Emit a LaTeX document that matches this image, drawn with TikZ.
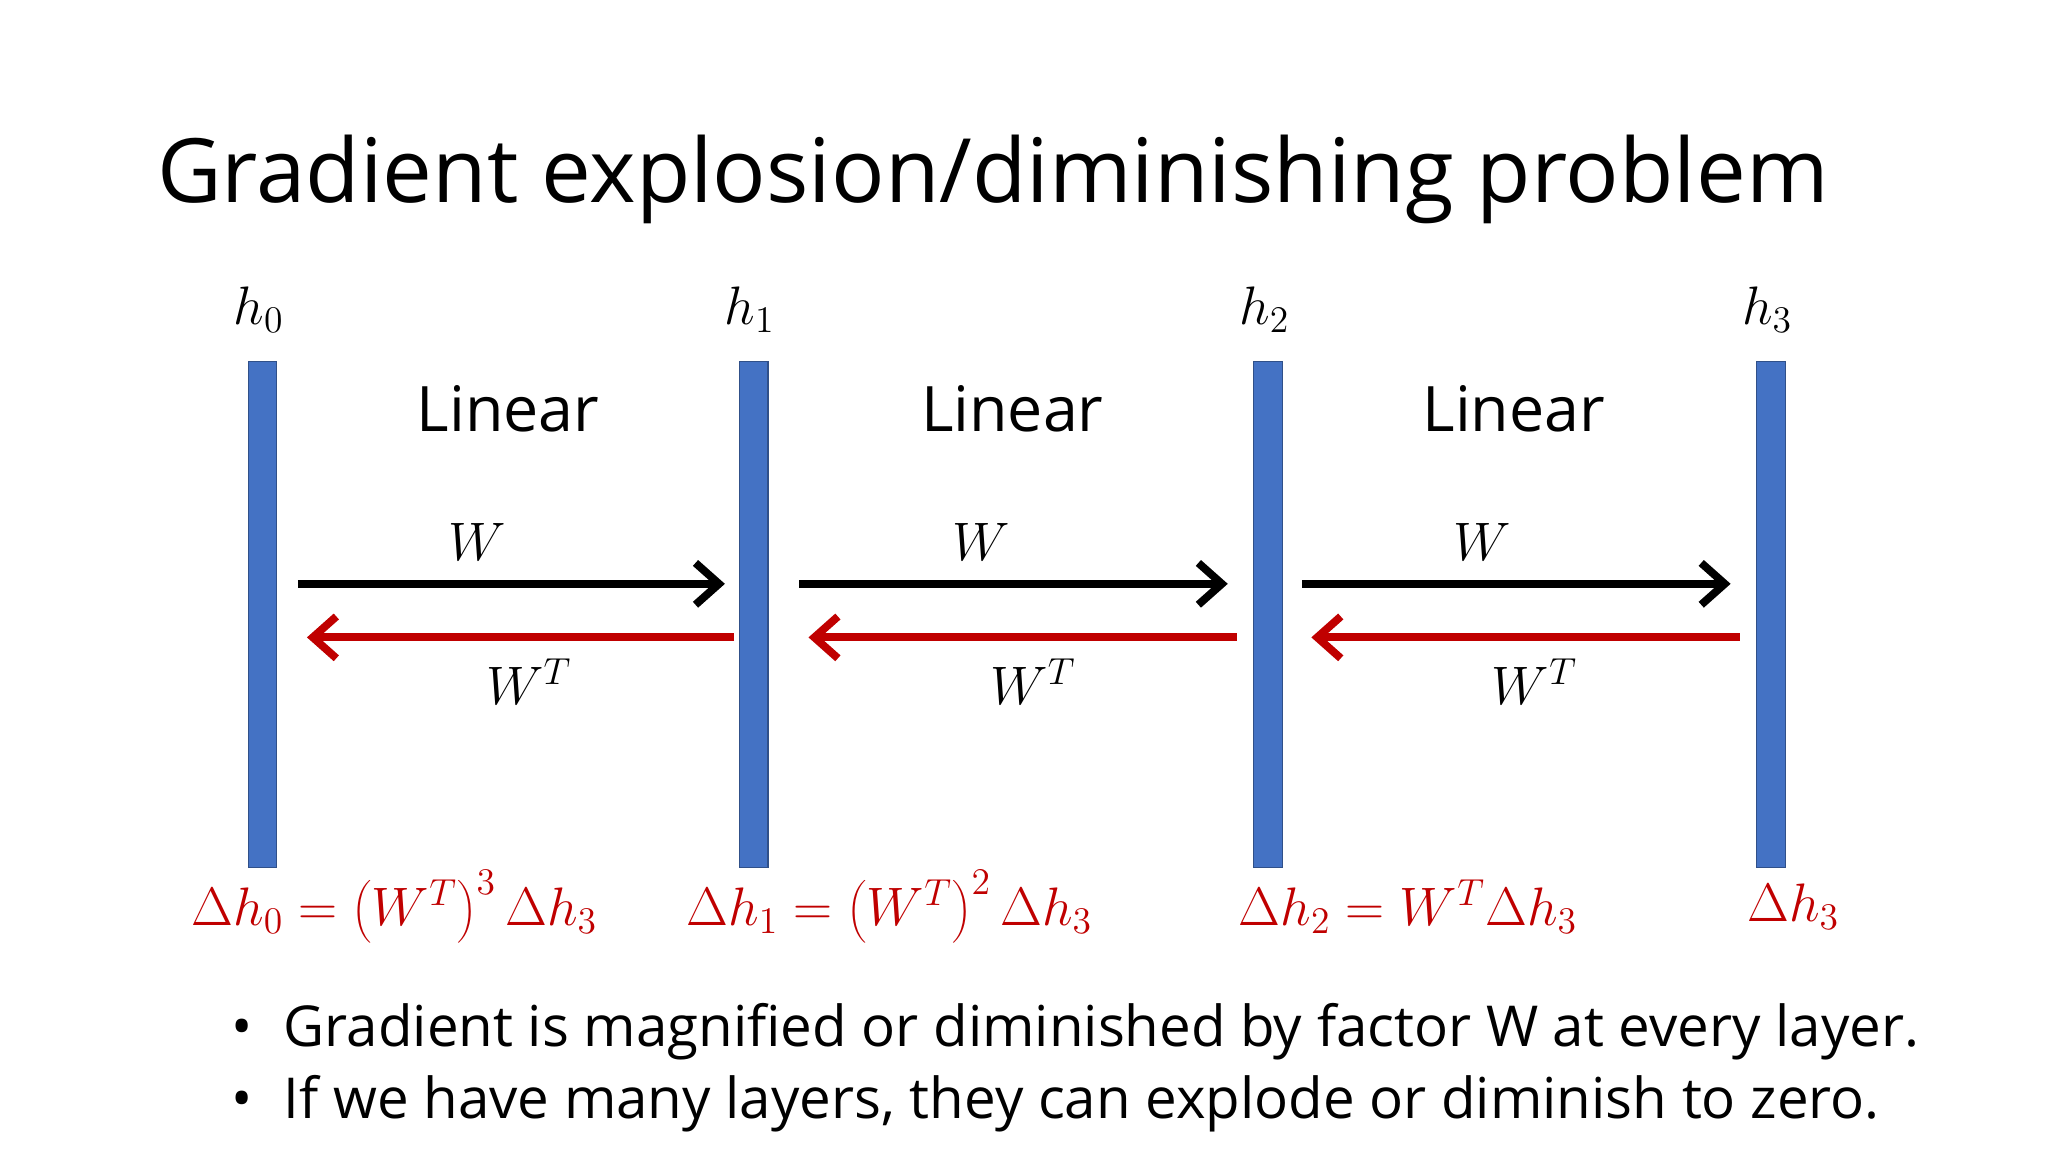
\documentclass[tikz,border=0pt]{standalone}
\usepackage{fontspec}
\setmainfont{Open Sans}
\usetikzlibrary{arrows.meta}
\definecolor{barblue}{RGB}{68,114,196}
\definecolor{gred}{RGB}{192,0,0}
\tikzset{
  bar/.style={fill=barblue,draw=barblue!70!black,line width=0.4pt,minimum width=11pt,minimum height=193.5pt,inner sep=0pt},
  fwd/.style={line width=3pt,-{Straight Barb[length=9pt,width=16pt,line width=3pt]}},
  bwd/.style={line width=3pt,gred,-{Straight Barb[length=9pt,width=16pt,line width=3pt]}},
  lin/.style={font=\fontsize{24}{28}\selectfont},
  mlab/.style={font=\fontsize{21}{25}\selectfont},
  eq/.style={font=\fontsize{21.2}{25}\selectfont,text=gred},
  bul/.style={font=\fontsize{21.6}{26}\selectfont,anchor=west}
}
\begin{document}
\begin{tikzpicture}[x=0.5pt,y=-0.5pt]
\useasboundingbox[fill=white] (0,0) rectangle (1568,882);
\node[anchor=base west,inner sep=0pt,font=\fontsize{34}{39}\selectfont] (title) at (120,155) {Gradient explosion/diminishing problem};
\foreach \i/\x in {0/201,1/577,2/971,3/1356}{
  \node[bar] (b\i) at (\x,470.5) {};
  \node[mlab] (h\i) at (\x-3,237) {$h_{\i}$};
}
\foreach \i/\a/\b/\c in {1/389/228/555,2/775/612/940,3/1159/997/1325}{
  \node[lin] (L\i) at (\a,313) {Linear};
  \coordinate (fs\i) at (\b,447); \coordinate (fe\i) at (\c,447);
  \draw[fwd] (fs\i) -- (fe\i);
  \coordinate (rs\i) at (\c+7,488); \coordinate (re\i) at (\b+7,488);
  \draw[bwd] (rs\i) -- (re\i);
  \node[mlab] (W\i) at (\a-24,415) {$W$};
  \node[mlab] (WT\i) at (\a+16,522) {$W^T$};
}
\node[eq] (e0) at (302,694) {$\Delta h_0=\left(W^T\right)^3\Delta h_3$};
\node[eq] (e1) at (681,694) {$\Delta h_1=\left(W^T\right)^2\Delta h_3$};
\node[eq] (e2) at (1078,694) {$\Delta h_2=W^T\Delta h_3$};
\node[eq] (e3) at (1373,694) {$\Delta h_3$};
\node[bul] (t1) at (170,790) {•\hspace{12pt}Gradient is magnified or diminished by factor W at every layer.};
\node[bul] (t2) at (170,845) {•\hspace{12pt}If we have many layers, they can explode or diminish to zero.};
\end{tikzpicture}
\end{document}
